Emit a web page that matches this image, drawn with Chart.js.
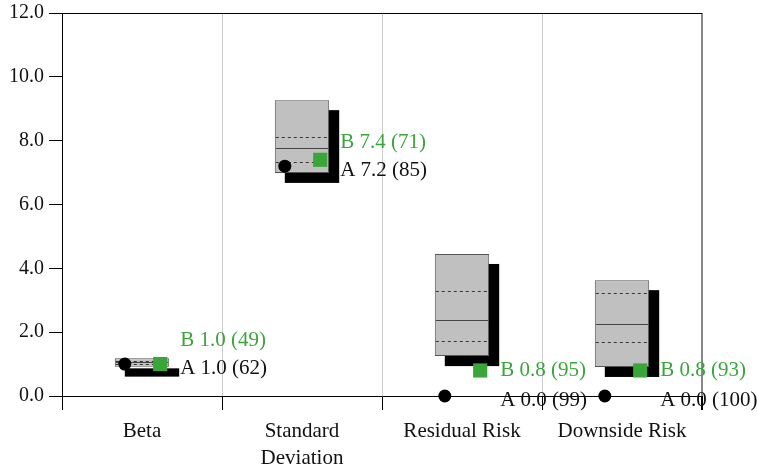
<!DOCTYPE html>
<html>
<head>
  <title>Risk Statistics</title>
  <script src="https://cdn.jsdelivr.net/npm/chart.js"></script>
  <style>
    body {
      margin: 0;
      background-color: #fff;
    }
    #wrap {
      width: 757px;
      height: 472px;
    }
  </style>
</head>
<body>
  <div id="wrap">
    <canvas id="riskChart" width="757" height="472"></canvas>
  </div>

  <script>
    // categories and values
    const categories = ['Beta', ['Standard', 'Deviation'], 'Residual Risk', 'Downside Risk'];
    const boxLow    = [0.92, 6.99, 1.25, 0.91];
    const boxQ1     = [1.00, 7.33, 1.72, 1.69];
    const boxMedian = [1.05, 7.77, 2.38, 2.26];
    const boxQ3     = [1.10, 8.11, 3.29, 3.23];
    const boxHigh   = [1.18, 9.27, 4.45, 3.63];
    const seriesA   = [1.0, 7.2, 0.0, 0.0];
    const seriesB   = [1.0, 7.4, 0.8, 0.8];
    const rankA     = [62, 85, 99, 100];
    const rankB     = [49, 71, 95, 93];
    const yTicks    = [0, 2, 4, 6, 8, 10, 12];

    const green = '#3aa63a';
    const fontFamily = '"Liberation Serif", "Times New Roman", serif';

    // shadow behind the boxes, quartile lines, point offsets and labels
    const boxPlugin = {
      id: 'boxPlugin',
      afterDatasetsUpdate(chart) {
        const bars = chart.getDatasetMeta(0).data;
        chart.getDatasetMeta(1).data.forEach((pt, i) => {
          pt.x = bars[i].x - bars[i].width / 2 + 10;
        });
        chart.getDatasetMeta(2).data.forEach((pt, i) => {
          pt.x = bars[i].x + bars[i].width / 2 - 9;
        });
      },
      beforeDatasetsDraw(chart) {
        const ctx = chart.ctx;
        ctx.save();
        ctx.fillStyle = '#000';
        chart.getDatasetMeta(0).data.forEach(bar => {
          const left = bar.x - bar.width / 2;
          ctx.fillRect(left + 10, bar.y + 10, bar.width, bar.base - bar.y);
        });
        ctx.restore();
      },
      afterDatasetDraw(chart, args) {
        if (args.index !== 0) return;
        const ctx = chart.ctx;
        const y = chart.scales.y;
        ctx.save();
        chart.getDatasetMeta(0).data.forEach((bar, i) => {
          const left = bar.x - bar.width / 2;
          const right = bar.x + bar.width / 2;
          ctx.lineWidth = 1;
          ctx.strokeStyle = '#333';
          ctx.setLineDash([3, 3]);
          [boxQ1[i], boxQ3[i]].forEach(v => {
            const py = Math.round(y.getPixelForValue(v)) + 0.5;
            ctx.beginPath();
            ctx.moveTo(left + 1, py);
            ctx.lineTo(right - 1, py);
            ctx.stroke();
          });
          ctx.setLineDash([]);
          ctx.strokeStyle = '#444';
          const my = Math.round(y.getPixelForValue(boxMedian[i])) + 0.5;
          ctx.beginPath();
          ctx.moveTo(left + 1, my);
          ctx.lineTo(right - 1, my);
          ctx.stroke();
        });
        ctx.restore();
      },
      afterDatasetsDraw(chart) {
        const ctx = chart.ctx;
        const y = chart.scales.y;
        ctx.save();
        ctx.font = '21px ' + fontFamily;
        ctx.textAlign = 'left';
        ctx.textBaseline = 'middle';
        chart.getDatasetMeta(0).data.forEach((bar, i) => {
          const tx = bar.x + bar.width / 2 + 11;
          const ya = y.getPixelForValue(seriesA[i]) + 4;
          const yb = Math.min(y.getPixelForValue(seriesB[i]), ya - 28);
          ctx.fillStyle = '#111';
          ctx.fillText('A ' + seriesA[i].toFixed(1) + ' (' + rankA[i] + ')', tx, ya);
          ctx.fillStyle = green;
          ctx.fillText('B ' + seriesB[i].toFixed(1) + ' (' + rankB[i] + ')', tx, yb);
        });
        ctx.restore();
      }
    };

    const ctx = document.getElementById('riskChart').getContext('2d');

    new Chart(ctx, {
      type: 'bar',
      data: {
        labels: categories,
        datasets: [
          {
            label: 'Range',
            data: boxLow.map((low, i) => [low, boxHigh[i]]),
            backgroundColor: '#c0c0c0',
            borderColor: '#555',
            borderWidth: 1,
            borderSkipped: false,
            barPercentage: 0.34,
            categoryPercentage: 1,
            order: 3
          },
          {
            type: 'line',
            label: 'A',
            data: seriesA,
            showLine: false,
            pointStyle: 'circle',
            pointRadius: 6.5,
            pointBackgroundColor: '#000',
            pointBorderWidth: 0,
            clip: false,
            order: 1
          },
          {
            type: 'line',
            label: 'B',
            data: seriesB,
            showLine: false,
            pointStyle: 'rect',
            pointRadius: 10,
            pointBackgroundColor: green,
            pointBorderWidth: 0,
            clip: false,
            order: 1
          }
        ]
      },
      options: {
        responsive: false,
        animation: false,
        devicePixelRatio: 1,
        layout: {
          padding: { top: 13, right: 55, left: 0, bottom: 0 }
        },
        plugins: {
          legend: { display: false },
          tooltip: { enabled: false }
        },
        scales: {
          x: {
            offset: true,
            border: { color: '#000', width: 1 },
            grid: {
              offset: true,
              color: c => (c.index === undefined ? '#888' : (c.index === 0 ? '#000' : '#ccc')),
              lineWidth: c => (c.index === undefined ? 2 : 1),
              tickColor: '#000',
              tickLength: 14
            },
            ticks: {
              color: '#111',
              padding: 8,
              font: { family: fontFamily, size: 21, lineHeight: 1.3 }
            },
            afterFit: scale => {
              scale.height = 76;
              scale.paddingLeft = 0;
              scale.paddingRight = 0;
            }
          },
          y: {
            min: 0,
            max: 12,
            afterBuildTicks: scale => {
              scale.ticks = yTicks.map(v => ({ value: v }));
            },
            border: { color: '#000', width: 1 },
            grid: {
              color: c => (c.tick && c.tick.value === 12 ? '#000' : 'rgba(0,0,0,0)'),
              tickColor: '#000',
              tickLength: 13
            },
            ticks: {
              color: '#111',
              padding: 5,
              font: { family: fontFamily, size: 20 },
              callback: v => Number(v).toFixed(1)
            },
            afterFit: scale => {
              scale.width = 62;
              scale.paddingTop = 0;
              scale.paddingBottom = 0;
            }
          }
        }
      },
      plugins: [boxPlugin]
    });
  </script>
</body>
</html>
